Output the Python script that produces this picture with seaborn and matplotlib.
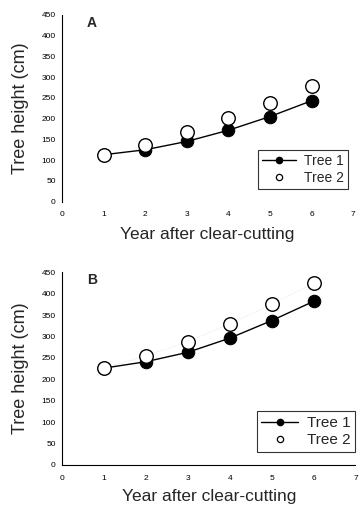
import numpy as np
import pandas as pd
import matplotlib
matplotlib.use("Agg")
import matplotlib.pyplot as plt
import seaborn as sns
from matplotlib.lines import Line2D

# === Data ===
years = [1, 2, 3, 4, 5, 6]
a_tree1 = [113, 125, 145, 172, 205, 243]
a_tree2 = [113, 137, 167, 201, 238, 278]
b_tree1 = [226, 241, 263, 296, 337, 382]
b_tree2 = [226, 255, 288, 329, 375, 424]
panel_labels = ["A", "B"]
yticks = [0, 50, 100, 150, 200, 250, 300, 350, 400, 450]
xticks = [0, 1, 2, 3, 4, 5, 6, 7]

sns.set_style("white")
plt.rcParams["font.family"] = ["Liberation Sans", "DejaVu Sans"]

fig = plt.figure(figsize=(3.59, 5.08), dpi=100)
ax_a = fig.add_axes([0.173, 0.603, 0.811, 0.368])
ax_b = fig.add_axes([0.173, 0.085, 0.817, 0.379])


def draw_panel(ax, t1, t2, label, bottom_spine, leg_anchor, leg_size,
               xpad, faint_t2=False):
    df = pd.DataFrame({"Year": years, "Tree 1": t1, "Tree 2": t2})
    sns.lineplot(data=df, x="Year", y="Tree 1", ax=ax, color="black",
                 linewidth=1.0, marker="o", markersize=9,
                 markerfacecolor="black", markeredgecolor="black", zorder=2)
    if faint_t2:
        sns.lineplot(data=df, x="Year", y="Tree 2", ax=ax, color="#e4e4e4",
                     linewidth=0.7, linestyle=":", zorder=1)
    sns.scatterplot(data=df, x="Year", y="Tree 2", ax=ax, s=95,
                    facecolor="white", edgecolor="black", linewidth=1.0,
                    zorder=3)
    ax.set_xlim(0, 7)
    ax.set_ylim(0, 450)
    ax.set_xticks(xticks)
    ax.set_yticks(yticks)
    ax.tick_params(axis="both", labelsize=6, length=2.5, width=0.6,
                   direction="out", pad=2, colors="black")
    ax.tick_params(axis="x", pad=5)
    if not bottom_spine:
        ax.tick_params(axis="x", length=1.5, width=0.5, colors="#888888",
                       labelcolor="black")
    ax.set_xlabel("Year after clear-cutting", fontsize=12.5, labelpad=xpad)
    ax.set_ylabel("Tree height (cm)", fontsize=13, labelpad=9)
    for s in ["top", "right"]:
        ax.spines[s].set_visible(False)
    ax.spines["bottom"].set_visible(bottom_spine)
    ax.spines["left"].set_color("black")
    ax.spines["left"].set_linewidth(0.8)
    ax.spines["bottom"].set_color("black")
    ax.spines["bottom"].set_linewidth(0.8)
    ax.text(0.085, 0.995, label, transform=ax.transAxes, fontsize=10,
            fontweight="bold", va="top", ha="left")
    handles = [
        Line2D([0], [0], color="black", linewidth=1.0, marker="o",
               markersize=4.5, markerfacecolor="black"),
        Line2D([0], [0], color="none", marker="o", markersize=4.5,
               markerfacecolor="white", markeredgecolor="black",
               markeredgewidth=0.9),
    ]
    leg = ax.legend(handles, ["Tree 1", "Tree 2"], loc="lower right",
                    bbox_to_anchor=leg_anchor, fontsize=leg_size,
                    frameon=True, fancybox=False, handlelength=2.4,
                    handletextpad=0.6, borderpad=0.3, labelspacing=0.2,
                    borderaxespad=0)
    leg.get_frame().set_edgecolor("black")
    leg.get_frame().set_linewidth(0.8)


draw_panel(ax_a, a_tree1, a_tree2, panel_labels[0], bottom_spine=False,
           leg_anchor=(0.983, 0.068), leg_size=10, xpad=7)
draw_panel(ax_b, b_tree1, b_tree2, panel_labels[1], bottom_spine=True,
           leg_anchor=(1.0, 0.069), leg_size=11, xpad=5, faint_t2=True)

fig.savefig("out.png", dpi=100)
